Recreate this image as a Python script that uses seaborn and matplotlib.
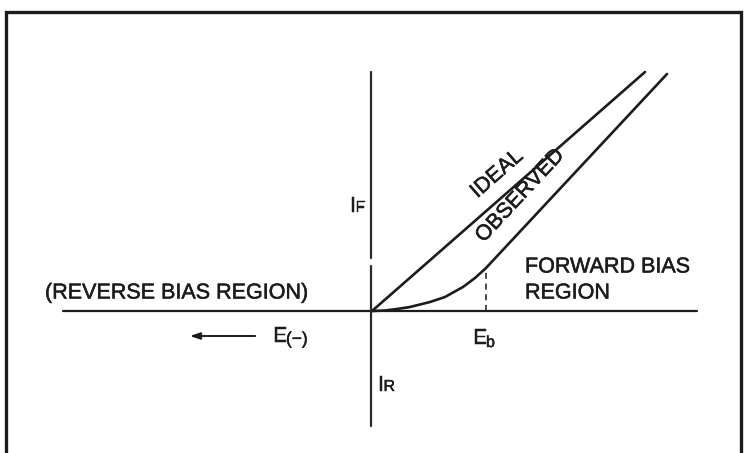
import matplotlib
matplotlib.use("Agg")
import matplotlib.pyplot as plt
import matplotlib.patheffects as pe
import seaborn as sns
import pandas as pd

sns.set_style("white")
plt.rcParams['font.family'] = ['Liberation Sans', 'DejaVu Sans']

# Data (E in arbitrary units, I in arbitrary units; origin at diode origin)
ideal_E = [0.0, 2.73]
ideal_I = [0.0, 2.39]
obs_E = [0.0, 0.13, 0.25, 0.38, 0.58, 0.73, 0.91, 1.03, 1.14, 2.95]
obs_I = [0.0, 0.005, 0.02, 0.04, 0.09, 0.14, 0.24, 0.33, 0.43, 2.37]
Eb = 1.14
Eb_I = 0.43

ink = "#1c1c1c"
bold = [pe.withStroke(linewidth=0.35, foreground=ink)]

fig = plt.figure(figsize=(7.44, 4.53), dpi=100)
ax = fig.add_axes([0, 0, 1, 1])
ax.set_xlim(-3.72, 3.72)
ax.set_ylim(-1.42, 3.11)
ax.axis("off")

df_ideal = pd.DataFrame({"E": ideal_E, "I": ideal_I})
df_obs = pd.DataFrame({"E": obs_E, "I": obs_I})
sns.lineplot(data=df_ideal, x="E", y="I", ax=ax, color=ink, lw=1.9, sort=False, estimator=None)
sns.lineplot(data=df_obs, x="E", y="I", ax=ax, color=ink, lw=1.9, sort=False, estimator=None)

# axes lines
ax.plot([-3.09, 3.25], [0, 0], color=ink, lw=1.6)
ax.plot([-0.01, -0.01], [2.39, 0.53], color="#2a2a2a", lw=1.6)
ax.plot([-0.01, -0.01], [0.45, -1.15], color="#2a2a2a", lw=1.6)

# Eb dashed marker
ax.plot([Eb, Eb], [0, Eb_I], color=ink, lw=1.1, ls=(0, (4, 3)))

# border
ax.plot([-3.66, -3.66, 3.69, 3.69], [-1.42, 2.985, 2.985, -1.42], color=ink, lw=2.4,
        solid_joinstyle="miter")

fs = 15.5
sfs = 11.5
def txt(x, y, s, size=fs, **kw):
    t = ax.text(x, y, s, fontsize=size, color=ink, **kw)
    t.set_path_effects(bold)
    return t

txt(-3.27, 0.18, "(REVERSE BIAS REGION)", va="center", ha="left")
txt(1.53, 0.44, "FORWARD BIAS", va="center", ha="left")
txt(1.53, 0.18, "REGION", va="center", ha="left")
txt(1.25, 1.37, "IDEAL", rotation=41.2, ha="center", va="center", rotation_mode="anchor")
txt(1.48, 1.15, "OBSERVED", rotation=47, ha="center", va="center", rotation_mode="anchor")

# I_F and I_R
txt(-0.22, 0.99, "I", ha="left", va="baseline")
txt(-0.165, 0.99, "F", size=sfs, ha="left", va="baseline")
txt(0.06, -0.80, "I", ha="left", va="baseline")
txt(0.115, -0.80, "R", size=sfs, ha="left", va="baseline")

# E_b
txt(1.01, -0.33, "E", ha="left", va="baseline")
txt(1.14, -0.36, "b", size=sfs, ha="left", va="baseline")

# E(-) with arrow
txt(-0.99, -0.31, "E", ha="left", va="baseline")
txt(-0.86, -0.33, "(\u2212)", size=12.5, ha="left", va="baseline")
ax.annotate("", xy=(-1.85, -0.25), xytext=(-1.14, -0.25),
            arrowprops=dict(arrowstyle="-|>,head_length=0.6,head_width=0.2", color=ink, lw=1.4))

fig.savefig("out.png", dpi=100)
